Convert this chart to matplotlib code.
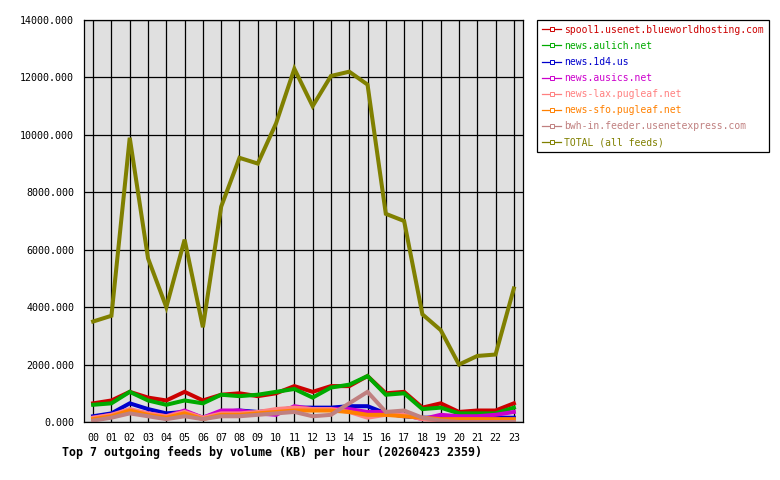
import numpy as np
import matplotlib.pyplot as plt
from matplotlib.lines import Line2D

hours = ["%02d" % h for h in range(24)]

names = ["spool1.usenet.blueworldhosting.com", "news.aulich.net", "news.1d4.us",
         "news.ausics.net", "news-lax.pugleaf.net", "news-sfo.pugleaf.net",
         "bwh-in.feeder.usenetexpress.com", "TOTAL (all feeds)"]
colors = ["#cc0000", "#00aa00", "#0000cc", "#cc00cc", "#ff8080", "#ff8000",
          "#c08080", "#808000"]

spool1 = [650, 750, 1050, 850, 750, 1050, 750, 950, 1000, 900, 1000, 1250,
          1050, 1250, 1250, 1600, 1000, 1050, 500, 650, 350, 400, 400, 650]
aulich = [600, 650, 1050, 750, 600, 750, 650, 950, 900, 950, 1050, 1150,
          850, 1200, 1300, 1600, 950, 1000, 450, 500, 300, 300, 300, 500]
d4 = [200, 300, 650, 450, 300, 350, 150, 350, 400, 350, 400, 500,
      500, 500, 550, 550, 300, 200, 150, 150, 150, 150, 150, 150]
ausics = [150, 250, 400, 300, 200, 400, 150, 400, 400, 300, 250, 550,
          450, 450, 450, 350, 350, 250, 100, 250, 200, 200, 250, 350]
lax = [150, 250, 450, 300, 200, 350, 150, 300, 300, 350, 450, 500,
       450, 450, 350, 150, 250, 250, 100, 50, 50, 50, 50, 50]
sfo = [100, 200, 400, 250, 150, 300, 100, 250, 250, 300, 350, 400,
       400, 400, 350, 250, 250, 200, 150, 100, 100, 100, 100, 100]
bwh = [50, 150, 300, 200, 100, 200, 100, 200, 200, 250, 300, 350,
       200, 250, 650, 1050, 350, 400, 150, 50, 0, 0, 0, 0]
total = [3500, 3700, 9900, 5700, 4000, 6350, 3300, 7500, 9200, 9000, 10400, 12300,
         11000, 12050, 12200, 11750, 7250, 7000, 3750, 3200, 2000, 2300, 2350, 4650]

series = [spool1, aulich, d4, ausics, lax, sfo, bwh, total]

plt.rcParams['font.family'] = ['DejaVu Sans Mono']

fig = plt.figure(figsize=(7.8, 4.8), dpi=100)
ax = fig.add_axes([84/780, 58/480, 439/780, 402/480])
ax.set_facecolor("#e0e0e0")

x = np.arange(24)
for vals, c in zip(series, colors):
    ax.plot(x, vals, color=c, lw=2.9, solid_joinstyle='miter')

ax.set_xlim(-0.5, 23.5)
ax.set_ylim(0, 14000)
ax.set_xticks(x)
ax.set_xticklabels(hours)
yt = np.arange(0, 14001, 2000)
ax.set_yticks(yt)
ax.set_yticklabels(["%.3f" % v for v in yt])
ax.tick_params(length=0, labelsize=7.2, colors='black')
ax.tick_params(axis='y', pad=7)
ax.tick_params(axis='x', pad=8)
ax.grid(True, color='black', lw=0.9)
ax.set_axisbelow(True)
for s in ax.spines.values():
    s.set_color('black')
    s.set_linewidth(0.9)
    s.set_zorder(5)

handles = [Line2D([0], [0], color=c, lw=0.9, marker='s', markersize=2.5,
                  markerfacecolor='white', markeredgecolor=c, markeredgewidth=0.7)
           for c in colors]
leg = fig.legend(handles, names, loc='upper left', bbox_to_anchor=(537/780, 1-20/480),
                 fontsize=7, handlelength=2.0, handletextpad=0.3, labelspacing=0.62,
                 borderpad=0.5, borderaxespad=0, fancybox=False, edgecolor='black',
                 framealpha=1, labelcolor='linecolor')
leg.get_frame().set_linewidth(0.9)

fig.text(62/780, 1-452/480, "Top 7 outgoing feeds by volume (KB) per hour (20260423 2359)",
         fontsize=8.4, fontweight='bold', va='center', ha='left')

fig.savefig("out.png", dpi=100)
